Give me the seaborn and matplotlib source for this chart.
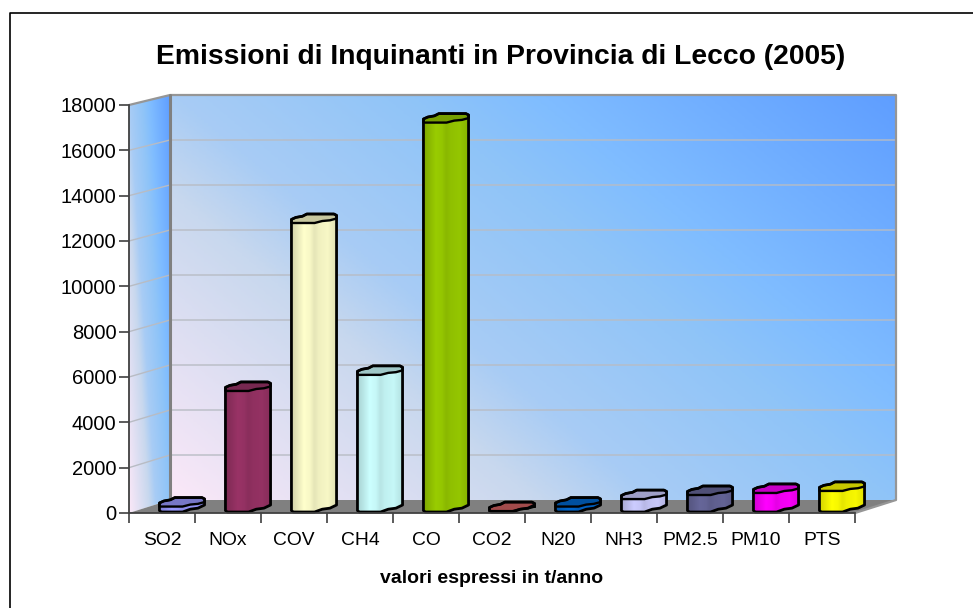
import numpy as np
import seaborn as sns
import matplotlib
matplotlib.use('Agg')
import matplotlib.pyplot as plt
from matplotlib.colors import LinearSegmentedColormap, to_rgb
from matplotlib.lines import Line2D
from matplotlib.patches import Polygon

categories = ['SO2', 'NOx', 'COV', 'CH4', 'CO', 'CO2', 'N20', 'NH3', 'PM2.5', 'PM10', 'PTS']
values = [240, 5340, 12750, 6050, 17180, 40, 240, 570, 750, 840, 930]
colors = ['#9999ff', '#993366', '#ffffcc', '#ccffff', '#99cc00', '#d06060',
          '#0066cc', '#ccccff', '#666699', '#ff00ff', '#ffff00']
y_ticks = list(range(0, 18001, 2000))

W, H = 973, 608
sns.set_theme(style='white')
plt.rcParams['font.family'] = ['Liberation Sans', 'DejaVu Sans']

fig = plt.figure(figsize=(W / 100, H / 100), dpi=100)
ax = fig.add_axes([129 / W, 1 - 513 / H, 726 / W, 408 / H])
ax.patch.set_alpha(0)

sns.barplot(x=categories, y=values, hue=categories, palette=colors, width=0.35,
            legend=False, ax=ax, zorder=5)
ax.set_xlim(-0.5, 10.5)
ax.set_ylim(0, 18000)

# depth of the fake 3d box, in data units
box_dx = 41 / 66
box_dy = 13 / 408 * 18000
back = 405 / 408
x0, x1 = -0.5, 10.5
top = 18000


def back_y(v):
    return box_dy + v * back


wall_cmap = LinearSegmentedColormap.from_list(
    'wall', [(0, '#fbe8f8'), (0.3, '#c8d8ee'), (0.4, '#a8ccf5'), (0.6, '#8fc4f8'),
             (0.7, '#80bdff'), (1, '#5f9eff')])


def gradient(extent, clip_pts, zorder=1, cmap=wall_cmap):
    u, v = np.meshgrid(np.linspace(0, 1, 200), np.linspace(1, 0, 200))
    im = ax.imshow((u * 0.6 + v * 0.4), extent=extent, cmap=cmap, aspect='auto',
                   vmin=0, vmax=1, zorder=zorder, interpolation='bilinear')
    im.set_clip_box(fig.bbox)
    im.set_clip_path(Polygon(clip_pts, transform=ax.transData))


# back wall
wall = [(x0 + box_dx, back_y(0)), (x1 + box_dx, back_y(0)),
        (x1 + box_dx, back_y(top)), (x0 + box_dx, back_y(top))]
gradient((x0 + box_dx, x1 + box_dx, back_y(0), back_y(top)), wall)

# side wall
side = [(x0, 0), (x0 + box_dx, back_y(0)), (x0 + box_dx, back_y(top)), (x0, top)]
gradient((x0, x0 + box_dx, 0, back_y(top)), side)

# floor
ax.add_patch(Polygon([(x0, 0), (x1, 0), (x1 + box_dx, back_y(0)), (x0 + box_dx, back_y(0))],
                     fc='#808080', ec='none', zorder=2, clip_on=False))

# grid
for t in y_ticks[1:-1]:
    ax.plot([x0, x0 + box_dx, x1 + box_dx], [t, back_y(t), back_y(t)], color='#b8bcc4',
            lw=1.0, zorder=3, clip_on=False)
ax.plot([x0, x0 + box_dx, x1 + box_dx, x1 + box_dx, x1], [top, back_y(top), back_y(top), back_y(0), 0],
        color='#969696', lw=1.6, zorder=3, clip_on=False)
ax.plot([x0 + box_dx] * 2, [back_y(0), back_y(top)], color='#808080', lw=2.2, zorder=3, clip_on=False)

# bars: seaborn gives the front face, the depth goes around it
bar_shift = 9 / 66
bar_dx = 22 / 66
low_dy = 7 / 408 * 18000
top_dy = 9 / 408 * 18000
base = 1 / 408 * 18000
shade = LinearSegmentedColormap.from_list(
    'shade', [(0, (0.82,) * 3), (0.28, (1, 1, 1)), (0.42, (0.97,) * 3), (0.51, (0.90,) * 3),
              (0.6, (0.94,) * 3), (0.8, (0.97,) * 3), (1, (0.88,) * 3)])

for bar, col in zip(ax.patches, colors):
    bar.set_x(bar.get_x() + bar_shift)
    bar.set_y(base)
    h = bar.get_height()
    L = bar.get_x()
    w = bar.get_width()
    R = L + w + bar_dx
    b = base
    rim = [(L, b + h + top_dy * 0.4), (L + bar_dx * 0.2, b + h + top_dy * 0.62),
           (L + bar_dx * 0.5, b + h + top_dy * 0.75), (L + bar_dx * 0.7, b + h + top_dy),
           (R - 0.04, b + h + top_dy), (R, b + h + top_dy * 0.85), (R, b + h + top_dy * 0.5)]
    out = [(L, b + 60), (L + 0.03, b), (L + w, b), (L + w + bar_dx * 0.35, b + low_dy * 0.4),
           (L + w + bar_dx * 0.7, b + low_dy * 0.55), (R, b + low_dy)] + rim[::-1]
    face = [(L, b + h), (L + w, b + h), (L + w + bar_dx * 0.35, b + h + top_dy * 0.22),
            (L + w + bar_dx * 0.7, b + h + top_dy * 0.3)] + rim[::-1]
    rgb = np.array(to_rgb(col))
    strip = shade(np.linspace(0, 1, 90))[:, :3] * rgb
    im = ax.imshow(strip[None, :, :], extent=(L, R, b, b + h + top_dy), aspect='auto', zorder=6,
                   interpolation='nearest')
    im.set_clip_box(fig.bbox)
    im.set_clip_path(Polygon(out, transform=ax.transData))
    ax.add_patch(Polygon(face, fc=rgb * 0.78, ec='black', lw=1.7, zorder=7, clip_on=False, joinstyle='round'))
    ax.add_patch(Polygon(out, fc='none', ec='black', lw=2.0, zorder=8, clip_on=False, joinstyle='round'))

ax.set_xlim(x0, x1)
ax.set_ylim(0, top)

# axes and ticks
sns.despine(ax=ax, right=True, top=True)
for s in ['left', 'bottom']:
    ax.spines[s].set_color('#404040')
    ax.spines[s].set_linewidth(1.3)
    ax.spines[s].set_zorder(9)
ax.set_yticks(y_ticks)
ax.set_xticks(range(len(categories)))
ax.set_xticklabels(categories)
ax.set_xticks(np.arange(x0, x1 + 1), minor=True)
ax.tick_params(axis='y', which='major', left=True, length=7, width=1.2, color='#404040', labelsize=14.5,
               labelcolor='black', pad=2)
ax.tick_params(axis='x', which='major', bottom=False, labelsize=13.9, labelcolor='black', pad=8)
ax.tick_params(axis='x', which='minor', bottom=True, length=7, width=1.2, color='#404040')

ax.set_xlabel('valori espressi in t/anno', fontsize=14, fontweight='bold', color='black', labelpad=15)
fig.text(501 / W, 1 - 57.5 / H, 'Emissioni di Inquinanti in Provincia di Lecco (2005)', ha='center', va='center',
         fontsize=20.3, fontweight='bold', color='black')

# chart frame, only top and left are inside the picture
fig.add_artist(Line2D([10 / W, 10 / W, 1], [0, 1 - 13 / H, 1 - 13 / H], transform=fig.transFigure,
                      color='black', lw=1.2))

fig.savefig('out.png', dpi=100)
